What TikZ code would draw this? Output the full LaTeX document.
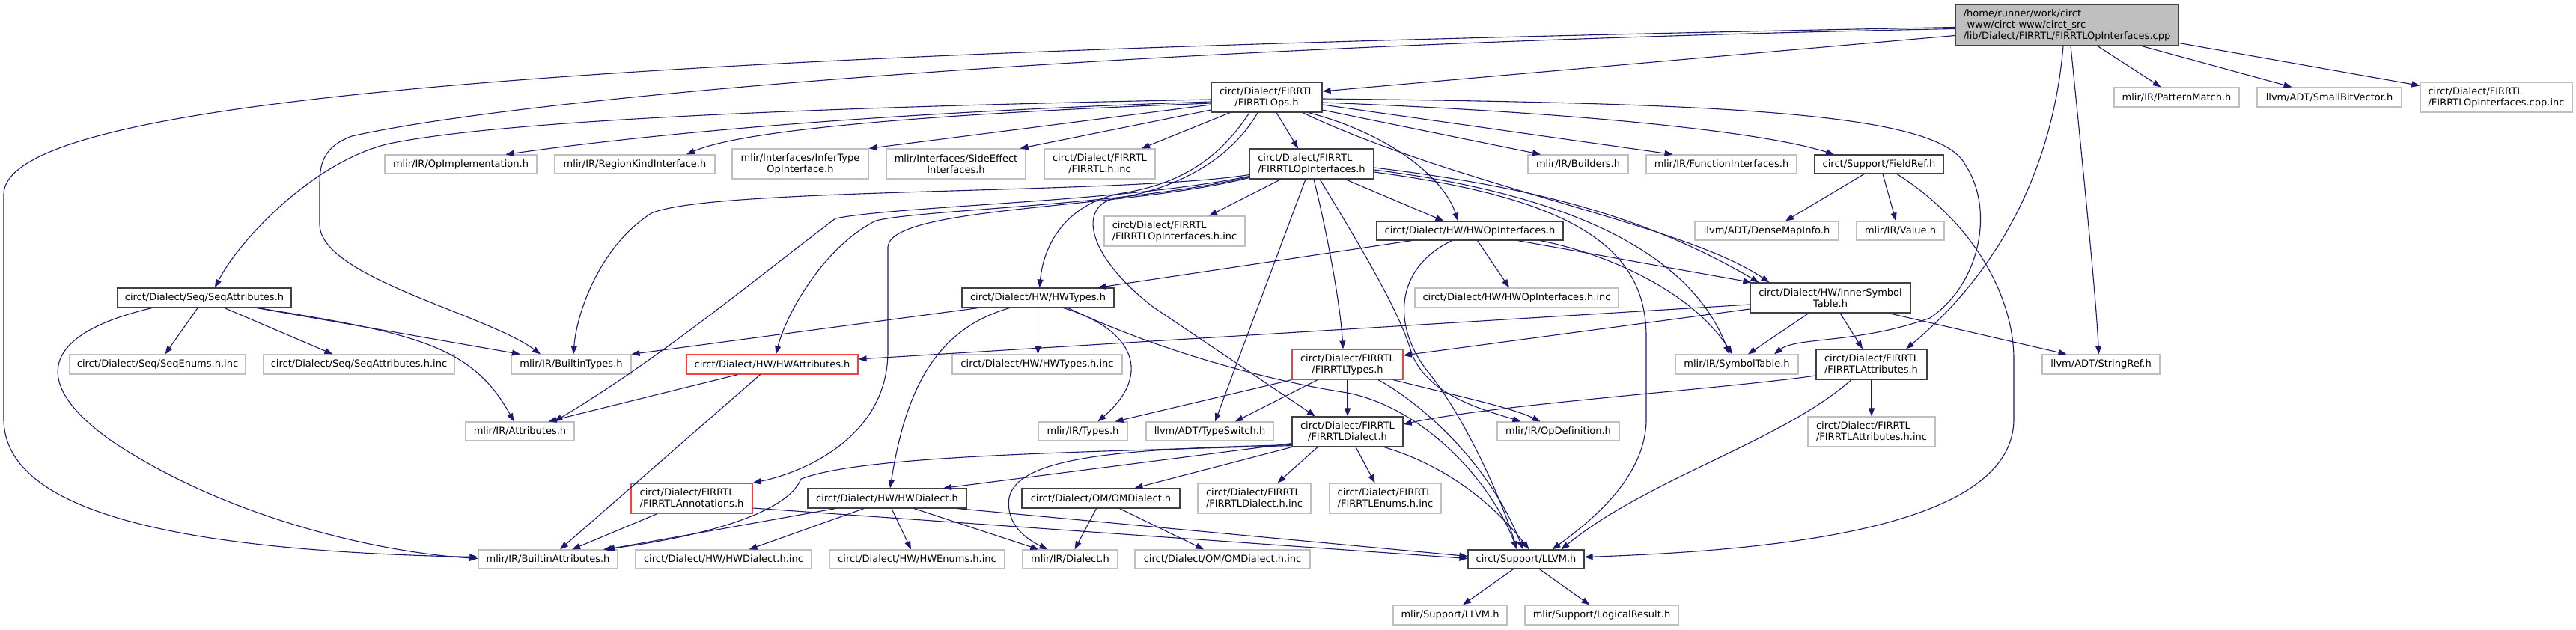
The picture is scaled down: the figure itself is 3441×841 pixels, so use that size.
\documentclass[tikz,border=0pt]{standalone}
\usepackage{fontspec}
\setmainfont{DejaVu Sans}
\usepackage{tikz}
\usetikzlibrary{arrows.meta}
\definecolor{depblue}{RGB}{25,25,112}
\definecolor{docgray}{RGB}{64,64,64}
\definecolor{extgray}{RGB}{191,191,191}
\definecolor{cutred}{RGB}{255,60,60}
\definecolor{mainfill}{RGB}{191,191,191}

\begin{document}
\begin{tikzpicture}[
      x=1pt,y=-1pt,
      hdr/.style={
        rectangle,
        fill=white,
        line width=1.2pt,
        inner sep=2pt,
        align=center,
        font=\fontsize{13pt}{15pt}\selectfont
      },
      dochdr/.style={hdr,draw=docgray},
      exthdr/.style={hdr,draw=extgray},
      cuthdr/.style={hdr,draw=cutred},
      mainhdr/.style={hdr,draw=docgray,fill=mainfill},
      dep/.style={-{Triangle[length=11pt,width=8pt]},line width=1.1pt,draw=depblue}
    ]
      \fill[white] (0,0) rectangle (3441,841);
      \useasboundingbox (0,0) rectangle (3441,841);
      \node[mainhdr,align=left,minimum width=298pt,minimum height=55pt] (root) at (2761,33.5) {/home/runner/work/circt\\-www/circt-www/circt\_src\\/lib/Dialect/FIRRTL/FIRRTLOpInterfaces.cpp};
      \node[dochdr,minimum width=148pt,minimum height=40pt] (ops) at (1692,130) {circt/Dialect/FIRRTL\\/FIRRTLOps.h};
      \node[exthdr,minimum width=203pt,minimum height=25pt] (opimpl) at (615.5,219.5) {mlir/IR/OpImplementation.h};
      \node[exthdr,minimum width=214pt,minimum height=25pt] (regionkind) at (848,219.5) {mlir/IR/RegionKindInterface.h};
      \node[exthdr,minimum width=182pt,minimum height=40pt] (infertype) at (1069,219) {mlir/Interfaces/InferType\\OpInterface.h};
      \node[exthdr,minimum width=186pt,minimum height=40pt] (sideeffect) at (1277,219) {mlir/Interfaces/SideEffect\\Interfaces.h};
      \node[exthdr,minimum width=148pt,minimum height=40pt] (firrtlinc) at (1469,219) {circt/Dialect/FIRRTL\\/FIRRTL.h.inc};
      \node[dochdr,align=left,minimum width=166pt,minimum height=40pt] (opif) at (1752,219) {circt/Dialect/FIRRTL\\/FIRRTLOpInterfaces.h};
      \node[exthdr,minimum width=134pt,minimum height=25pt] (builders) at (2108,219.5) {mlir/IR/Builders.h};
      \node[exthdr,minimum width=201pt,minimum height=25pt] (funcif) at (2299.5,219.5) {mlir/IR/FunctionInterfaces.h};
      \node[dochdr,minimum width=172pt,minimum height=25pt] (fieldref) at (2510,219.5) {circt/Support/FieldRef.h};
      \node[exthdr,minimum width=167pt,minimum height=26pt] (patmatch) at (2907.5,130) {mlir/IR/PatternMatch.h};
      \node[exthdr,minimum width=193pt,minimum height=26pt] (smallbv) at (3111.5,130) {llvm/ADT/SmallBitVector.h};
      \node[exthdr,align=left,minimum width=203pt,minimum height=40pt] (opifcppinc) at (3334.5,130) {circt/Dialect/FIRRTL\\/FIRRTLOpInterfaces.cpp.inc};
      \node[exthdr,align=left,minimum width=188pt,minimum height=40pt] (opifinc) at (1569,309) {circt/Dialect/FIRRTL\\/FIRRTLOpInterfaces.h.inc};
      \node[dochdr,minimum width=249pt,minimum height=25pt] (hwopif) at (1963.5,308.5) {circt/Dialect/HW/HWOpInterfaces.h};
      \node[exthdr,minimum width=192pt,minimum height=25pt] (densemap) at (2360,308.5) {llvm/ADT/DenseMapInfo.h};
      \node[exthdr,minimum width=117pt,minimum height=25pt] (value) at (2538.5,308.5) {mlir/IR/Value.h};
      \node[dochdr,minimum width=232pt,minimum height=26pt] (seqattr) at (273,398) {circt/Dialect/Seq/SeqAttributes.h};
      \node[dochdr,minimum width=203pt,minimum height=26pt] (hwtypes) at (1386.5,398) {circt/Dialect/HW/HWTypes.h};
      \node[exthdr,minimum width=272pt,minimum height=26pt] (hwopifinc) at (2026,398) {circt/Dialect/HW/HWOpInterfaces.h.inc};
      \node[dochdr,minimum width=214pt,minimum height=40pt] (innersym) at (2445,398) {circt/Dialect/HW/InnerSymbol\\Table.h};
      \node[exthdr,minimum width=235pt,minimum height=26pt] (seqenums) at (210.5,487) {circt/Dialect/Seq/SeqEnums.h.inc};
      \node[exthdr,minimum width=255pt,minimum height=26pt] (seqattrinc) at (479.5,487) {circt/Dialect/Seq/SeqAttributes.h.inc};
      \node[exthdr,minimum width=160pt,minimum height=26pt] (builtintypes) at (763,487) {mlir/IR/BuiltinTypes.h};
      \node[cuthdr,minimum width=229pt,minimum height=26pt] (hwattr) at (1031.5,487) {circt/Dialect/HW/HWAttributes.h};
      \node[exthdr,minimum width=227pt,minimum height=26pt] (hwtypesinc) at (1385.5,487) {circt/Dialect/HW/HWTypes.h.inc};
      \node[cuthdr,minimum width=148pt,minimum height=40pt] (ftypes) at (1800,487) {circt/Dialect/FIRRTL\\/FIRRTLTypes.h};
      \node[exthdr,minimum width=164pt,minimum height=26pt] (symtab) at (2320,487) {mlir/IR/SymbolTable.h};
      \node[dochdr,align=left,minimum width=148pt,minimum height=40pt] (fattr) at (2500,487) {circt/Dialect/FIRRTL\\/FIRRTLAttributes.h};
      \node[exthdr,minimum width=157pt,minimum height=26pt] (stringref) at (2806.5,487) {llvm/ADT/StringRef.h};
      \node[exthdr,minimum width=145pt,minimum height=25pt] (attrs) at (694.5,576.5) {mlir/IR/Attributes.h};
      \node[exthdr,minimum width=119pt,minimum height=25pt] (types) at (1446.5,576.5) {mlir/IR/Types.h};
      \node[exthdr,minimum width=170pt,minimum height=25pt] (typeswitch) at (1616,576.5) {llvm/ADT/TypeSwitch.h};
      \node[dochdr,minimum width=148pt,minimum height=40pt] (fdialect) at (1800,577) {circt/Dialect/FIRRTL\\/FIRRTLDialect.h};
      \node[exthdr,minimum width=163pt,minimum height=25pt] (opdef) at (2081.5,576.5) {mlir/IR/OpDefinition.h};
      \node[exthdr,align=left,minimum width=170pt,minimum height=40pt] (fattrinc) at (2500,577) {circt/Dialect/FIRRTL\\/FIRRTLAttributes.h.inc};
      \node[cuthdr,align=left,minimum width=162pt,minimum height=40pt] (annos) at (924,666) {circt/Dialect/FIRRTL\\/FIRRTLAnnotations.h};
      \node[dochdr,minimum width=212pt,minimum height=26pt] (hwdialect) at (1185,666) {circt/Dialect/HW/HWDialect.h};
      \node[dochdr,minimum width=211pt,minimum height=26pt] (omdialect) at (1470.5,666) {circt/Dialect/OM/OMDialect.h};
      \node[exthdr,align=left,minimum width=151pt,minimum height=40pt] (fdialectinc) at (1675.5,666) {circt/Dialect/FIRRTL\\/FIRRTLDialect.h.inc};
      \node[exthdr,align=left,minimum width=149pt,minimum height=40pt] (fenums) at (1850.5,666) {circt/Dialect/FIRRTL\\/FIRRTLEnums.h.inc};
      \node[exthdr,minimum width=186pt,minimum height=25pt] (builtinattr) at (732,747.5) {mlir/IR/BuiltinAttributes.h};
      \node[exthdr,minimum width=235pt,minimum height=25pt] (hwdialectinc) at (966.5,747.5) {circt/Dialect/HW/HWDialect.h.inc};
      \node[exthdr,minimum width=234pt,minimum height=25pt] (hwenums) at (1225,747.5) {circt/Dialect/HW/HWEnums.h.inc};
      \node[exthdr,minimum width=127pt,minimum height=25pt] (dialect) at (1429.5,747.5) {mlir/IR/Dialect.h};
      \node[exthdr,minimum width=234pt,minimum height=25pt] (omdialectinc) at (1633,747.5) {circt/Dialect/OM/OMDialect.h.inc};
      \node[dochdr,minimum width=155pt,minimum height=25pt] (llvm) at (2038.5,747.5) {circt/Support/LLVM.h};
      \node[exthdr,minimum width=152pt,minimum height=26pt] (mlirllvm) at (1937,822) {mlir/Support/LLVM.h};
      \node[exthdr,minimum width=205pt,minimum height=26pt] (logicalres) at (2139.5,822) {mlir/Support/LogicalResult.h};
      \draw[dep] ([yshift=-14pt]root.west) -- ([yshift=8pt]ops.east);
      \draw[dep] ([yshift=-3pt]root.west) .. controls (800,70) and (5,130) .. (5,260) -- (5,560) .. controls (5,690) and (260,737) .. ([yshift=3pt]builtinattr.west);
      \draw[dep] ([yshift=-5pt]root.west) .. controls (1500,60) and (700,130) .. (470,182) .. controls (435,195) and (427,215) .. (427,245) -- (427,300) .. controls (427,370) and (650,420) .. ([xshift=-41pt]builtintypes.north);
      \draw[dep] ([xshift=-5pt]root.south) .. controls (2740,250) and (2650,380) .. ([xshift=46pt]fattr.north);
      \draw[dep] ([xshift=5pt]root.south) .. controls (2785,250) and (2800,400) .. ([xshift=-3pt]stringref.north);
      \draw[dep] ([xshift=41pt]root.south) -- ([xshift=-21pt]patmatch.north);
      \draw[dep] ([xshift=100pt]root.south) -- ([xshift=-50pt]smallbv.north);
      \draw[dep] ([yshift=-24pt]root.east) -- ([yshift=-5pt]opifcppinc.north west);
      \draw[dep] ([yshift=-3pt]ops.west) .. controls (1000,145) and (650,165) .. (520,192) .. controls (420,215) and (320,320) .. ([xshift=14pt]seqattr.north);
      \draw[dep] ([yshift=-6pt]ops.west) .. controls (1200,150) and (900,175) .. ([xshift=60pt]opimpl.north);
      \draw[dep] ([yshift=-8pt]ops.west) .. controls (1300,150) and (1000,170) .. ([xshift=69pt]regionkind.north);
      \draw[dep] ([yshift=-10pt]ops.west) -- (infertype.north east);
      \draw[dep] ([yshift=-17pt]ops.west) -- ([xshift=-8pt]sideeffect.north east);
      \draw[dep] ([xshift=-49pt]ops.south) -- ([xshift=56pt]firrtlinc.north);
      \draw[dep] ([xshift=13pt]ops.south) -- ([xshift=-18pt]opif.north);
      \draw[dep] ([xshift=-23pt]ops.south) .. controls (1630,210) and (1580,245) .. (1500,258) .. controls (1430,270) and (1395,320) .. ([xshift=2pt]hwtypes.north);
      \draw[dep] ([xshift=-12pt]ops.south) .. controls (1640,220) and (1560,255) .. (1490,265) .. controls (1440,275) and (1450,340) .. (1540,410) -- ([xshift=-43pt]fdialect.north);
      \draw[dep] ([xshift=56pt]ops.south) .. controls (1860,180) and (1930,240) .. ([xshift=-16pt]hwopif.north);
      \draw[dep] ([yshift=-17pt]ops.east) -- ([xshift=-50pt]builders.north);
      \draw[dep] ([yshift=-10pt]ops.east) -- ([xshift=-65pt]funcif.north);
      \draw[dep] ([yshift=-7pt]ops.east) .. controls (2100,150) and (2350,175) .. ([xshift=-60pt]fieldref.north);
      \draw[dep] ([yshift=-2pt]ops.east) .. controls (2300,138) and (2590,150) .. (2625,220) .. controls (2665,280) and (2645,380) .. (2578,425) .. controls (2480,460) and (2400,450) .. ([xshift=50pt]symtab.north);
      \draw[dep] ([xshift=48pt]ops.south) .. controls (1950,250) and (2250,300) .. ([xshift=26pt]innersym.north west);
      \draw[dep] ([xshift=-41pt]opif.south) -- ([xshift=46pt]opifinc.north);
      \draw[dep] ([xshift=45pt]opif.south) -- ([xshift=-35pt]hwopif.north);
      \draw[dep] ([yshift=6pt]opif.south west) .. controls (1500,260) and (950,250) .. (870,285) .. controls (800,330) and (770,420) .. ([xshift=3pt]builtintypes.north);
      \draw[dep] ([yshift=4pt]opif.south west) .. controls (1500,270) and (1200,275) .. (1116,292) .. controls (1000,380) and (880,480) .. ([xshift=46pt]attrs.north);
      \draw[dep] ([yshift=3pt]opif.south west) .. controls (1500,275) and (1230,280) .. (1170,295) .. controls (1100,330) and (1050,420) .. ([xshift=5pt]hwattr.north);
      \draw[dep] ([yshift=2pt]opif.south west) .. controls (1500,280) and (1190,275) .. (1186,330) -- (1186,470) .. controls (1186,580) and (1080,630) .. (annos.north east);
      \draw[dep] ([xshift=-8pt]opif.south) -- ([xshift=7pt]typeswitch.north);
      \draw[dep] ([xshift=3pt]opif.south) .. controls (1770,300) and (1790,400) .. ([xshift=-6pt]ftypes.north);
      \draw[dep] ([xshift=11pt]opif.south) .. controls (1830,350) and (1870,420) .. (1885,470) .. controls (1905,530) and (1990,550) .. ([xshift=-50pt]opdef.north);
      \draw[dep] ([yshift=-5pt]opif.east) .. controls (2050,250) and (2200,290) .. ([xshift=12pt]innersym.north west);
      \draw[dep] ([yshift=-8pt]opif.east) .. controls (2100,260) and (2260,340) .. ([xshift=-10pt]symtab.north);
      \draw[dep] ([yshift=-11pt]opif.east) .. controls (2100,265) and (2199,330) .. (2199,450) -- (2199,560) .. controls (2199,640) and (2120,700) .. ([xshift=35pt]llvm.north);
      \draw[dep] ([xshift=-78pt]hwopif.south) -- ([xshift=80pt]hwtypes.north);
      \draw[dep] ([xshift=10pt]hwopif.south) -- ([xshift=-10pt]hwopifinc.north);
      \draw[dep] ([xshift=64pt]hwopif.south) -- ([xshift=2pt]innersym.north west);
      \draw[dep] ([xshift=94pt]hwopif.south) .. controls (2150,340) and (2260,390) .. ([xshift=-6pt]symtab.north);
      \draw[dep] ([xshift=-24pt]hwopif.south) .. controls (1860,360) and (1860,440) .. (1910,500) .. controls (1950,550) and (2000,650) .. ([xshift=-12pt]llvm.north);
      \draw[dep] ([xshift=-80pt]hwtypes.south) -- (builtintypes.north east);
      \draw[dep] (hwtypes.south) -- (hwtypes.south |- hwtypesinc.north);
      \draw[dep] ([xshift=34pt]hwtypes.south) .. controls (1515,440) and (1540,500) .. ([xshift=20pt]types.north);
      \draw[dep] ([xshift=-38pt]hwtypes.south) .. controls (1250,440) and (1210,520) .. ([xshift=4pt]hwdialect.north);
      \draw[dep] ([xshift=40pt]hwtypes.south) .. controls (1550,470) and (1700,510) .. (1800,525) .. controls (1900,545) and (1990,640) .. ([xshift=-12pt]llvm.north);
      \draw[dep] ([xshift=-29pt]innersym.south) -- ([xshift=15pt]symtab.north);
      \draw[dep] ([xshift=13pt]innersym.south) -- ([xshift=-12pt]fattr.north);
      \draw[dep] ([xshift=78pt]innersym.south) -- ([xshift=-46pt]stringref.north);
      \draw[dep] ([yshift=-9pt]innersym.west) -- ([yshift=7pt]hwattr.east);
      \draw[dep] ([yshift=-15pt]innersym.west) -- ([yshift=12pt]ftypes.east);
      \draw[dep] (fattr.south) -- (fattrinc.north);
      \draw[dep] ([yshift=-15pt]fattr.west) .. controls (2300,520) and (2000,540) .. ([yshift=10pt]fdialect.east);
      \draw[dep] ([xshift=-27pt]fattr.south) .. controls (2380,590) and (2200,640) .. ([xshift=47pt]llvm.north);
      \draw[dep] ([xshift=-20pt]fieldref.south) -- ([xshift=25pt]densemap.north);
      \draw[dep] ([xshift=5pt]fieldref.south) -- ([xshift=-6pt]value.north);
      \draw[dep] ([xshift=24pt]fieldref.south) .. controls (2640,300) and (2690,400) .. (2690,480) -- (2690,560) .. controls (2690,700) and (2400,735) .. ([yshift=3pt]llvm.east);
      \draw[dep] ([xshift=-9pt]seqattr.south) -- ([xshift=10pt]seqenums.north);
      \draw[dep] ([xshift=27pt]seqattr.south) -- ([xshift=-35pt]seqattrinc.north);
      \draw[dep] ([xshift=70pt]seqattr.south) -- ([xshift=-68pt]builtintypes.north);
      \draw[dep] ([xshift=72pt]seqattr.south) .. controls (550,445) and (630,460) .. ([xshift=-8pt]attrs.north);
      \draw[dep] ([xshift=-70pt]seqattr.south) .. controls (40,450) and (50,520) .. (150,590) .. controls (300,690) and (500,738) .. ([yshift=1pt]builtinattr.west);
      \draw[dep] ([xshift=-46pt]hwattr.south) -- ([xshift=38pt]attrs.north);
      \draw[dep] ([xshift=-16pt]hwattr.south) -- ([xshift=16pt]builtinattr.north);
      \draw[dep] (ftypes.south west) -- ([xshift=43pt]types.north);
      \draw[dep] ([xshift=-40pt]ftypes.south) -- ([xshift=34pt]typeswitch.north);
      \draw[dep] (ftypes.south) -- (fdialect.north);
      \draw[dep] ([xshift=61pt]ftypes.south) .. controls (1950,530) and (2020,545) .. ([xshift=-24pt]opdef.north);
      \draw[dep] ([xshift=41pt]ftypes.south) .. controls (1900,540) and (1990,620) .. ([xshift=-4pt]llvm.north);
      \draw[dep] ([xshift=-40pt]fdialect.south) -- ([xshift=31pt]fdialectinc.north);
      \draw[dep] ([xshift=11pt]fdialect.south) -- ([xshift=-14pt]fenums.north);
      \draw[dep] ([xshift=49pt]fdialect.south) .. controls (1940,625) and (2000,680) .. ([xshift=4pt]llvm.north);
      \draw[dep] (fdialect.south west) -- ([xshift=45pt]omdialect.north);
      \draw[dep] ([yshift=5pt]fdialect.south west) -- ([xshift=75pt]hwdialect.north);
      \draw[dep] ([yshift=3pt]fdialect.south west) .. controls (1500,600) and (1360,610) .. (1348,665) .. controls (1343,700) and (1370,720) .. ([xshift=-30pt]dialect.north);
      \draw[dep] ([yshift=2pt]fdialect.south west) .. controls (1400,605) and (1150,610) .. (1070,640) .. controls (1050,690) and (920,720) .. ([xshift=74pt]builtinattr.north);
      \draw[dep] ([xshift=-69pt]hwdialect.south) -- ([xshift=78pt]builtinattr.north);
      \draw[dep] ([xshift=-31pt]hwdialect.south) -- ([xshift=34pt]hwdialectinc.north);
      \draw[dep] ([xshift=6pt]hwdialect.south) -- ([xshift=-8pt]hwenums.north);
      \draw[dep] ([xshift=36pt]hwdialect.south) -- ([xshift=-42pt]dialect.north);
      \draw[dep] ([xshift=94pt]hwdialect.south) -- ([yshift=4pt]llvm.west);
      \draw[dep] ([xshift=-46pt]annos.south) -- ([xshift=32pt]builtinattr.north);
      \draw[dep] ([yshift=-13pt]annos.east) -- ([yshift=1pt]llvm.west);
      \draw[dep] ([xshift=-6pt]omdialect.south) -- ([xshift=6pt]dialect.north);
      \draw[dep] ([xshift=25pt]omdialect.south) -- ([xshift=-25pt]omdialectinc.north);
      \draw[dep] ([xshift=-17pt]llvm.south) -- ([xshift=17pt]mlirllvm.north);
      \draw[dep] ([xshift=18pt]llvm.south) -- ([xshift=-16pt]logicalres.north);
    \end{tikzpicture}
\end{document}
